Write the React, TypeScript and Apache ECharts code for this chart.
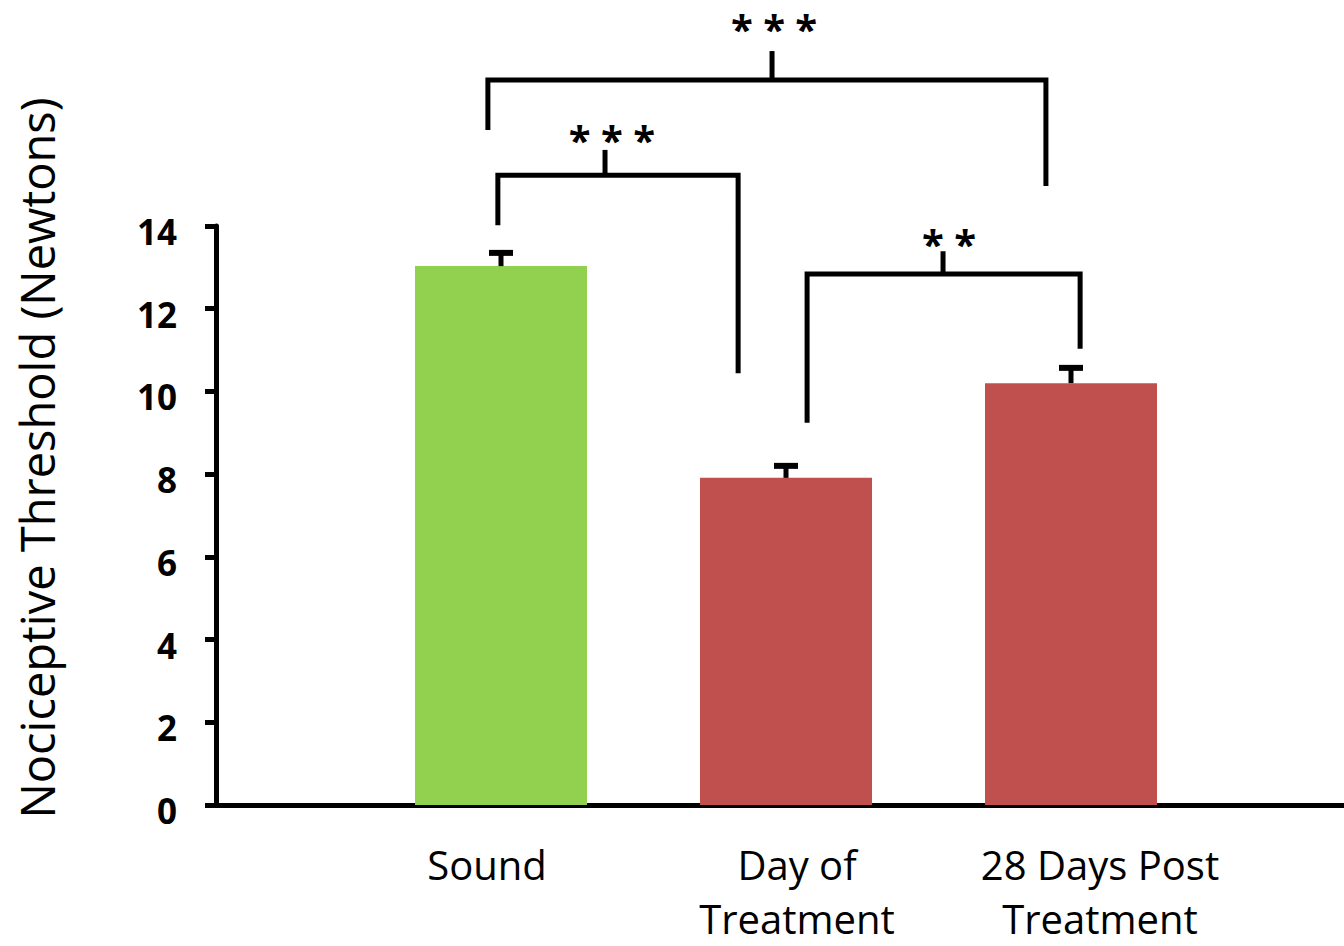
import React, { useEffect, useRef } from "react";
import * as echarts from "echarts";

// ---- data ----
const categories = ["Sound", "Day of\nTreatment", "28 Days Post\nTreatment"];
const values = [13.03, 7.91, 10.2];
const errors = [0.32, 0.29, 0.37];
const barColors = ["#92D050", "#C0504D", "#C0504D"];
const yTicks = [0, 2, 4, 6, 8, 10, 12, 14];
const yTitle = "Nociceptive Threshold (Newtons)";

// significance brackets (x in category units, y in axis units)
const bracketLabels = ["* * *", "* * *", "* *"];
const bracketLeftX = [0.954, 0.989, 2.074];
const bracketRightX = [2.912, 1.832, 3.032];
const bracketTopY = [17.53, 15.23, 12.84];
const bracketLeftEndY = [16.32, 14.02, 9.24];
const bracketRightEndY = [14.97, 10.44, 11.03];
const bracketTickX = [1.951, 1.365, 2.551];
const bracketTickTopY = [18.23, 15.84, 13.39];
const bracketStarX = [1.958, 1.389, 2.572];
const bracketStarY = [18.78, 16.1, 13.58];

// label horizontal nudges (px) relative to bar centre
const labelShift = [-14, 11, 29];

export default function App() {
  const ref = useRef<HTMLDivElement>(null);
  useEffect(() => {
    if (!ref.current) return;
    const chart = echarts.init(ref.current, null, { renderer: "svg" });

    const rich: any = {};
    categories.forEach((_, i) => {
      const s = labelShift[i];
      rich["c" + i] = {
        fontFamily: "Open Sans",
        fontSize: 40,
        lineHeight: 54,
        color: "#000",
        padding: s < 0 ? [0, -2 * s, 0, 0] : [0, 0, 0, 2 * s],
      };
    });

    const bracketData = bracketLabels.map((_, i) => [
      bracketLeftX[i],
      bracketTopY[i],
      bracketRightX[i],
      bracketLeftEndY[i],
      bracketRightEndY[i],
      bracketTickX[i],
      bracketTickTopY[i],
      bracketStarX[i],
      bracketStarY[i],
    ]);

    const option: any = {
      animation: false,
      backgroundColor: "#fff",
      grid: {
        left: 216,
        width: 1140,
        top: 226,
        bottom: 141,
        containLabel: false,
        outerBoundsMode: "none",
      },
      xAxis: {
        type: "value",
        min: 0,
        max: 4,
        interval: 1,
        axisLine: { show: true, onZero: false, lineStyle: { color: "#000", width: 5 } },
        axisTick: { show: false },
        splitLine: { show: false },
        axisLabel: {
          margin: 32,
          rich,
          formatter: (v: number) => {
            const i = Math.round(v) - 1;
            if (i < 0 || i >= categories.length) return "";
            return categories[i]
              .split("\n")
              .map((line) => `{c${i}|${line}}`)
              .join("\n");
          },
        },
      },
      yAxis: {
        type: "value",
        min: yTicks[0],
        max: yTicks[yTicks.length - 1],
        interval: yTicks[1] - yTicks[0],
        axisLine: { show: true, lineStyle: { color: "#000", width: 5 } },
        axisTick: { show: true, length: 11, lineStyle: { color: "#000", width: 5 } },
        splitLine: { show: false },
        axisLabel: {
          margin: 39,
          fontFamily: "Open Sans",
          fontWeight: "bold",
          fontSize: 35,
          color: "#000",
          verticalAlign: "top",
          lineHeight: 11,
        },
      },
      graphic: [
        {
          type: "text",
          x: 37,
          y: 458,
          rotation: Math.PI / 2,
          style: {
            text: yTitle,
            fontFamily: "Open Sans",
            fontSize: 47,
            fill: "#000",
            align: "center",
            verticalAlign: "middle",
          },
        },
      ],
      series: [
        {
          type: "bar",
          barWidth: 172,
          data: values.map((v, i) => ({
            value: [i + 1, v],
            itemStyle: { color: barColors[i] },
          })),
        },
        {
          type: "custom",
          clip: false,
          z: 5,
          data: values.map((v, i) => [i + 1, v, errors[i]]),
          renderItem: (params: any, api: any) => {
            const x = api.value(0);
            const v = api.value(1);
            const e = api.value(2);
            const base = api.coord([x, v]);
            const top = api.coord([x, v + e]);
            return {
              type: "group",
              children: [
                {
                  type: "line",
                  shape: { x1: base[0], y1: base[1], x2: top[0], y2: top[1] },
                  style: { stroke: "#000", lineWidth: 5 },
                },
                {
                  type: "line",
                  shape: { x1: top[0] - 12, y1: top[1], x2: top[0] + 12, y2: top[1] },
                  style: { stroke: "#000", lineWidth: 6 },
                },
              ],
            };
          },
        },
        {
          type: "custom",
          clip: false,
          z: 5,
          encode: { x: 0, y: 1 },
          data: bracketData,
          renderItem: (params: any, api: any) => {
            const lx = api.value(0);
            const ty = api.value(1);
            const rx = api.value(2);
            const ly = api.value(3);
            const ry = api.value(4);
            const tx = api.value(5);
            const tty = api.value(6);
            const sx = api.value(7);
            const sy = api.value(8);
            const p1 = api.coord([lx, ly]);
            const p2 = api.coord([lx, ty]);
            const p3 = api.coord([rx, ty]);
            const p4 = api.coord([rx, ry]);
            const t1 = api.coord([tx, ty]);
            const t2 = api.coord([tx, tty]);
            const s = api.coord([sx, sy]);
            return {
              type: "group",
              children: [
                {
                  type: "polyline",
                  shape: { points: [p1, p2, p3, p4] },
                  style: { stroke: "#000", lineWidth: 5, fill: "none", lineJoin: "miter" },
                },
                {
                  type: "line",
                  shape: { x1: t1[0], y1: t1[1], x2: t2[0], y2: t2[1] },
                  style: { stroke: "#000", lineWidth: 5 },
                },
                {
                  type: "text",
                  x: s[0],
                  y: s[1],
                  style: {
                    text: bracketLabels[params.dataIndex],
                    fontFamily: "Open Sans",
                    fontWeight: "bold",
                    fontSize: 40,
                    fill: "#000",
                    align: "center",
                    verticalAlign: "middle",
                  },
                },
              ],
            };
          },
        },
      ],
    };
    chart.setOption(option);
    return () => chart.dispose();
  }, []);
  return (
    <div
      ref={ref}
      style={{ position: "absolute", left: 0, top: 0, width: 1344, height: 946 }}
    />
  );
}
